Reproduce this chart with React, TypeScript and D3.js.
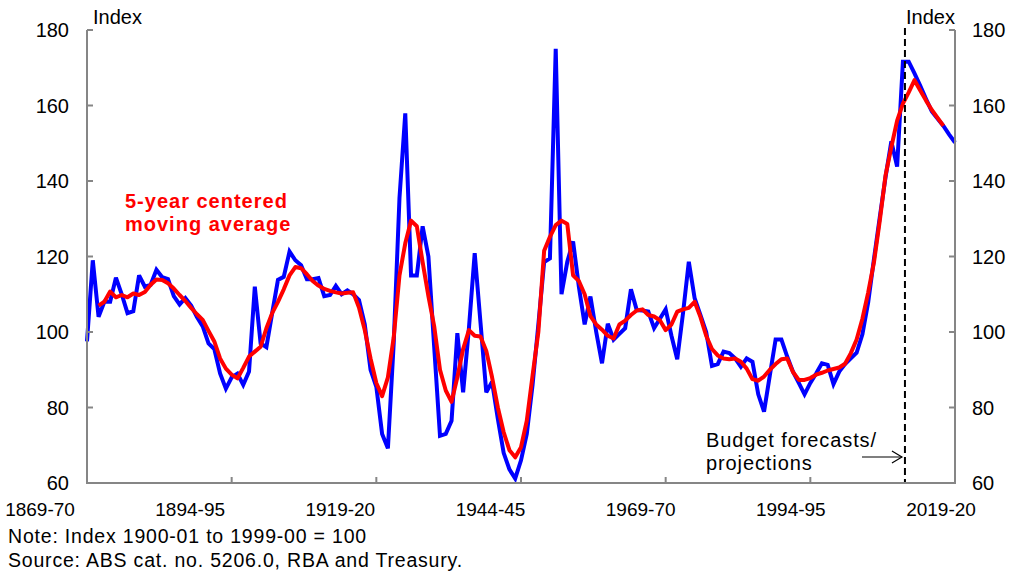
import React from "react";
import * as d3 from "d3";

// financial years 1869-70 .. 2019-20, keyed by starting year
const years = d3.range(1869, 2020);
const tickYears = [1869, 1894, 1919, 1944, 1969, 1994, 2019];
const tickLabels = ["1869-70", "1894-95", "1919-20", "1944-45", "1969-70", "1994-95", "2019-20"];
const yTicks = [60, 80, 100, 120, 140, 160, 180];

// terms of trade index (blue)
const termsOfTrade = [
  97.5, 119, 104, 108, 108, 114.4, 110, 105, 105.5, 115,
  112, 112.5, 116.5, 114.5, 114, 109.5, 107.3, 109, 107, 104,
  101.5, 97, 95.5, 89, 85, 88, 89, 86, 89.5, 112,
  97, 96, 105, 113.8, 114.6, 121.3, 119, 117.7, 114, 114,
  114.3, 109.5, 109.8, 112.2, 110, 111, 110, 108.5, 102, 90,
  85.5, 73, 69.2, 97, 135.5, 157.9, 115, 115, 128, 120,
  96, 72.5, 73, 76.5, 99.7, 84, 101, 120.9, 102.5, 84,
  86.8, 77, 68, 63.6, 61.2, 66, 73, 86, 102, 118.5,
  119.5, 175, 110, 118.6, 124, 112, 102, 109.4, 100, 91.7,
  102.2, 98, 99.5, 101, 111.3, 105.8, 105.7, 105.4, 101, 103.5,
  106, 99, 92.8, 105, 118.6, 109, 104.5, 100, 91, 91.5,
  94.8, 94.4, 93, 90.8, 93, 92.1, 83.5, 78.9, 88.5, 98,
  98, 93.5, 89.5, 86.5, 83.5, 86.5, 89, 91.7, 91.3, 86.2,
  89.5, 91.5, 93, 94.5, 99.4, 107.9, 119.4, 130.4, 141.1, 150.5,
  143.8, 171.6, 171.6, 168.5, 165.2, 161.7, 158.4, 156.5, 154.6, 152.3,
  150.2,
];

// 5-year centred moving average (red), 1871-72 .. 2017-18
const maStart = 1871;
const movingAverage = [
  107, 108, 110.7, 109.2, 109.8, 109.2, 110.2, 109.8, 110.6, 112.5,
  113.9, 113.8, 112.9, 111.5, 109.8, 108.2, 106.4, 104.7, 103.2, 100.3,
  97.5, 93, 90.3, 88.7, 87.7, 90.5, 93.5, 94.8, 96.1, 101,
  105, 108, 111.3, 115, 117.2, 116.9, 115.3, 113.5, 112.3, 111.4,
  110.9, 110.5, 110.2, 110.4, 110.5, 106.5, 100.5, 93, 86.5, 83,
  88, 98.5, 115, 123.5, 129.5, 128, 118.5, 109.5, 101.5, 90,
  84.5, 81.5, 88, 95.5, 100.5, 99, 98.8, 95, 88, 80,
  73.5, 68.7, 66.8, 69.5, 76.5, 88.5, 100, 121.5, 125.2, 128.3,
  129.5, 128.6, 115, 113.5, 110, 104.2, 102, 100.6, 99, 98.3,
  102, 103, 104.5, 105.7, 106, 104.5, 104.1, 103.1, 100.5, 102,
  105.4, 106, 106.4, 108, 104, 99, 95.5, 93.8, 93, 92.8,
  93, 92.1, 90.3, 87.5, 87.1, 88.2, 90, 91.5, 92.8, 93,
  89.4, 87.3, 87.3, 87.8, 88.7, 89.2, 89.8, 90.2, 90.6, 91.6,
  94.4, 98, 103.5, 110.5, 118.5, 129.5, 141.5, 149, 156, 160.5,
  163.5, 166.7, 164, 161.3, 158.8, 156.7, 154.6,
];

const forecastBoundary = 2010.35;

const FONT = "Arial, 'Liberation Sans', sans-serif";
const AXIS = "#868686";

export default function App() {
  const W = 1016;
  const H = 574;
  const left = 87;
  const right = 955;
  const top = 30;
  const bottom = 483;

  const x = d3.scaleLinear().domain([1869, 2019]).range([left, right]);
  const y = d3.scaleLinear().domain([60, 180]).range([bottom, top]);
  const labelX = d3.scalePoint<string>().domain(tickLabels).range([40, 941]);

  const line = d3
    .line<[number, number]>()
    .x((d) => x(d[0]))
    .y((d) => y(d[1]));

  const totPath = line(years.map((yr, i) => [yr, termsOfTrade[i]]));
  const maPath = line(movingAverage.map((v, i) => [maStart + i, v]));

  const fx = x(forecastBoundary);

  return (
    <svg
      width={W}
      height={H}
      style={{ position: "absolute", left: 0, top: 0, background: "#fff" }}
      fontFamily={FONT}
    >
      {/* series */}
      <path d={totPath || ""} fill="none" stroke="#0000ff" strokeWidth={4} strokeLinejoin="miter" strokeMiterlimit={3} />
      <path d={maPath || ""} fill="none" stroke="#ff0000" strokeWidth={4} strokeLinejoin="round" />

      {/* forecast divider */}
      <line x1={fx} x2={fx} y1={top - 2} y2={bottom} stroke="#000" strokeWidth={2} strokeDasharray="7,4" />

      {/* axes */}
      <g stroke={AXIS} strokeWidth={2} fill="none">
        <line x1={left} x2={left} y1={top} y2={bottom + 1} />
        <line x1={right} x2={right} y1={top} y2={bottom + 1} />
        <line x1={left} x2={right} y1={bottom} y2={bottom} />
        {yTicks.map((t) => (
          <g key={t}>
            <line x1={left} x2={left + 6} y1={y(t)} y2={y(t)} />
            <line x1={right - 6} x2={right} y1={y(t)} y2={y(t)} />
          </g>
        ))}
        {tickYears.map((t) => (
          <line key={t} x1={x(t)} x2={x(t)} y1={bottom} y2={bottom - 6} />
        ))}
      </g>

      {/* y tick labels */}
      <g fontSize={20} fill="#000">
        {yTicks.map((t) => (
          <g key={t}>
            <text x={69} y={y(t) + 7} textAnchor="end">{t}</text>
            <text x={972} y={y(t) + 7} textAnchor="start">{t}</text>
          </g>
        ))}
        <text x={93} y={24}>Index</text>
        <text x={right} y={24} textAnchor="end">Index</text>
      </g>

      {/* x tick labels */}
      <g fontSize={19} fill="#000" textAnchor="middle">
        {tickLabels.map((l) => (
          <text key={l} x={labelX(l)} y={516}>{l}</text>
        ))}
      </g>

      {/* annotations */}
      <g fontSize={20} fontWeight="bold" fill="#ff0000" letterSpacing={1}>
        <text x={125} y={208}>5-year centered</text>
        <text x={125} y={231}>moving average</text>
      </g>
      <g fontSize={20} fill="#000" letterSpacing={0.9}>
        <text x={706} y={447}>Budget forecasts/</text>
        <text x={706} y={470}>projections</text>
      </g>
      <g stroke="#000" strokeWidth={1.2} fill="none">
        <line x1={fx - 43} x2={fx - 3} y1={457} y2={457} />
        <polyline points={`${fx - 13},${451} ${fx - 3},${457} ${fx - 13},${463}`} />
      </g>

      {/* footnotes */}
      <g fontSize={19.5} fill="#000" letterSpacing={0.8}>
        <text x={8} y={543}>Note: Index 1900-01 to 1999-00 = 100</text>
        <text x={8} y={567}>Source: ABS cat. no. 5206.0, RBA and Treasury.</text>
      </g>
    </svg>
  );
}
